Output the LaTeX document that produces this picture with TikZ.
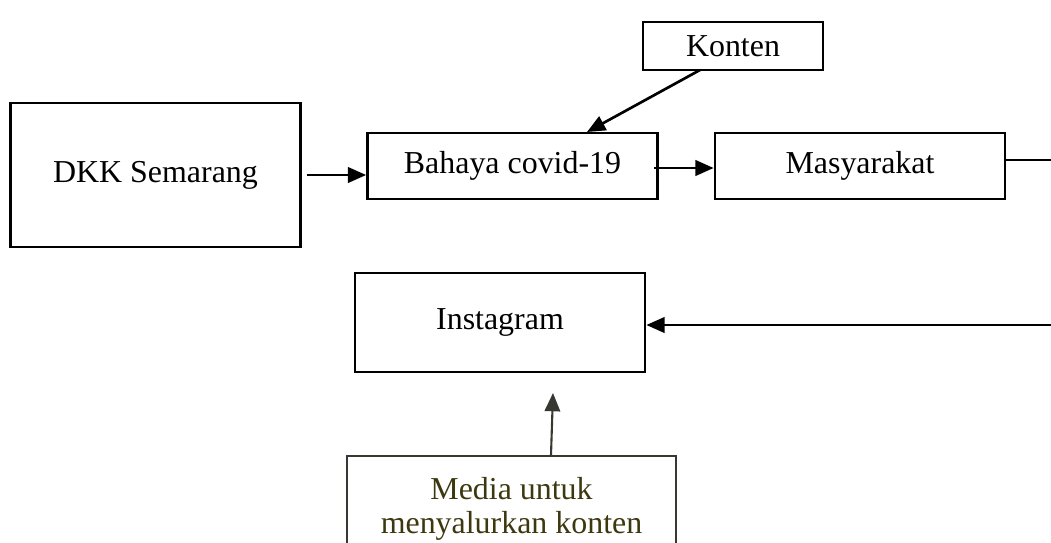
\documentclass[tikz,border=0pt]{standalone}
\usepackage{fontspec}
\setmainfont{Liberation Serif}
\usetikzlibrary{arrows.meta}
\definecolor{mediagray}{rgb}{0.22,0.22,0.20}
\definecolor{mediatext}{rgb}{0.24,0.22,0.06}
\tikzset{
  box/.style={draw, line width=1.9pt, minimum width=290*0.025cm, minimum height=66*0.025cm, inner sep=0pt},
  flow/.style={line width=1.9pt, -{Triangle[length=13pt, width=11pt]}},
}
\begin{document}
\begin{tikzpicture}[x=0.025cm, y=-0.025cm, font=\fontsize{22.7}{24.2}\selectfont]
\useasboundingbox (0,0) rectangle (1051,542);
\clip (0,0) rectangle (1051,542);

% Boxes of the upper row
\node [box, minimum height=144*0.025cm] (dkk) at (155.5,175) {DKK Semarang};
\node [box] (bahaya) at (512.5,166) {Bahaya covid-19};
\node [box] (masyarakat) at (860,166) {Masyarakat};
\node [box, minimum width=180*0.025cm, minimum height=48*0.025cm] (konten) at (733,46) {Konten};

% Boxes of the lower part
\node [box, minimum height=99*0.025cm] (instagram) at (500,322.5) {Instagram};
\node [box, draw=mediagray, line width=1.3pt, text=mediatext, anchor=north, align=center,
       minimum width=329*0.025cm, inner ysep=21*0.025cm] (media) at (511.5,455) {Media untuk\\menyalurkan konten};

% Free ends at the right border
\coordinate (edgetop) at (1051,160);
\coordinate (edgebot) at (1051,325);

% Drawing arrows
\draw [flow] (307,175) -- (dkk.east -| bahaya.west);
\draw [flow] (654,168) -- (masyarakat.west |- 0,168);
\draw [flow] (700,70) -- (587,132);
\draw [flow] (edgebot) -- (instagram.east |- edgebot);
\draw [flow, draw=mediagray, fill=mediagray, line width=1.5pt] (media.north -| 551,0) -- (553,393);

% Drawing line to the border
\draw [line width=0.8pt] (masyarakat.east |- edgetop) -- (edgetop);
\end{tikzpicture}
\end{document}
